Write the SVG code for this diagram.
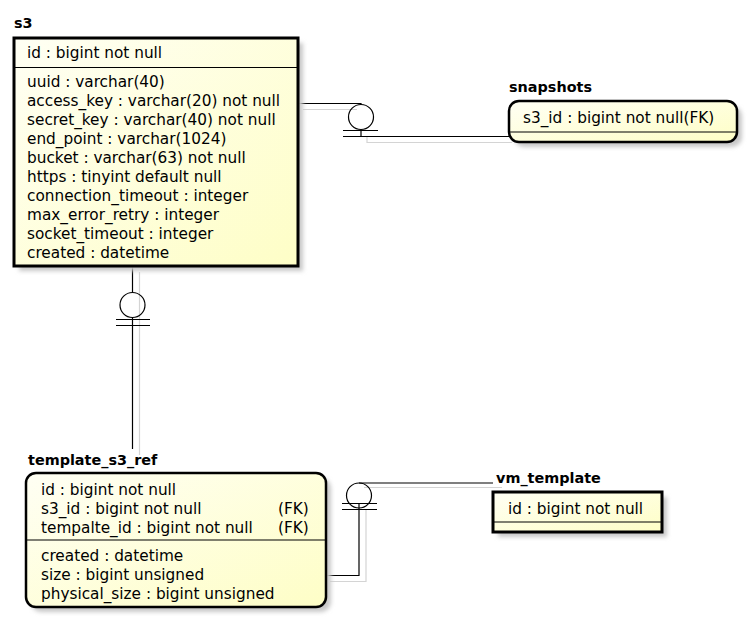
<svg xmlns="http://www.w3.org/2000/svg" width="750" height="621" viewBox="0 0 750 621">
<defs>
<linearGradient id="fill" x1="0" y1="0" x2="1" y2="1">
<stop offset="0" stop-color="#FFFFF4"/>
<stop offset="1" stop-color="#FEFEC6"/>
</linearGradient>
<filter id="sh" x="-10%" y="-10%" width="130%" height="130%">
<feGaussianBlur stdDeviation="2"/>
</filter>
<style>
.box{fill:url(#fill);stroke:#000;}
.shadow{fill:#c8c8c8;filter:url(#sh);}
.t{font-family:"DejaVu Sans","Liberation Sans",sans-serif;font-size:15.3px;fill:#000;}
.title{font-family:"DejaVu Sans","Liberation Sans",sans-serif;font-size:14.4px;font-weight:bold;fill:#000;}
.ln{stroke:#000;stroke-width:1.2;fill:none;}
.sl{stroke:#d4d4d4;stroke-width:1.2;fill:none;}
.sep{stroke:#000;stroke-width:1.2;}
</style>
</defs>
<rect width="750" height="621" fill="#fff"/>

<g id="connectors">
<path class="sl" d="M303,109.5 H357 M367,137 V142.5 H512"/>
<path class="sl" d="M139.5,272 V455"/>
<path class="sl" d="M330,581.5 H366 V510 M364,487.5 H502"/>
<path class="ln" d="M298,103.5 H361 V104.5"/>
<circle class="ln" cx="361" cy="117" r="12.5" fill="#fff"/>
<path class="ln" d="M343,130.5 H378 M343,136.5 H378 M361,129.5 V136.5 H510"/>
<path class="ln" d="M132.5,266 V292.5"/>
<circle class="ln" cx="132.5" cy="305" r="12.5" fill="#fff"/>
<path class="ln" d="M116,319.5 H150 M116,325.5 H150 M132.5,317.5 V449"/>
<path class="ln" d="M326,575.5 H359 V504"/>
<path class="ln" d="M342,503.5 H377 M342,509.5 H377"/>
<circle class="ln" cx="359" cy="495.5" r="12.5" fill="#fff"/>
<path class="ln" d="M359,483 H493"/>
</g>

<g id="s3">
<rect class="shadow" x="19" y="43" width="284" height="228"/>
<text class="title" x="14" y="28">s3</text>
<rect class="box" x="14" y="38" width="284" height="228" stroke-width="3"/>
<line class="sep" x1="14" y1="67.5" x2="298" y2="67.5"/>
<text class="t" x="27" y="58">id : bigint not null</text>
<text class="t" x="27" y="87">uuid : varchar(40)</text>
<text class="t" x="27" y="106">access_key : varchar(20) not null</text>
<text class="t" x="27" y="125">secret_key : varchar(40) not null</text>
<text class="t" x="27" y="144">end_point : varchar(1024)</text>
<text class="t" x="27" y="163">bucket : varchar(63) not null</text>
<text class="t" x="27" y="182">https : tinyint default null</text>
<text class="t" x="27" y="201">connection_timeout : integer</text>
<text class="t" x="27" y="220">max_error_retry : integer</text>
<text class="t" x="27" y="239">socket_timeout : integer</text>
<text class="t" x="27" y="258">created : datetime</text>
</g>

<g id="snapshots">
<rect class="shadow" x="514" y="106" width="228" height="41" rx="10"/>
<text class="title" x="509" y="92">snapshots</text>
<rect class="box" x="509" y="101" width="228" height="41" rx="10" stroke-width="2.5"/>
<line class="sep" x1="509" y1="132" x2="737" y2="132"/>
<text class="t" x="523" y="123">s3_id : bigint not null(FK)</text>
</g>

<g id="template_s3_ref">
<rect class="shadow" x="31" y="478" width="300" height="134" rx="10"/>
<text class="title" x="28" y="465">template_s3_ref</text>
<rect class="box" x="26" y="473" width="300" height="134" rx="10" stroke-width="2.5"/>
<line class="sep" x1="26" y1="540" x2="326" y2="540"/>
<text class="t" x="41" y="495">id : bigint not null</text>
<text class="t" x="41" y="514">s3_id : bigint not null</text>
<text class="t" x="278" y="514">(FK)</text>
<text class="t" x="41" y="533">tempalte_id : bigint not null</text>
<text class="t" x="278" y="533">(FK)</text>
<text class="t" x="41" y="561">created : datetime</text>
<text class="t" x="41" y="580">size : bigint unsigned</text>
<text class="t" x="41" y="599">physical_size : bigint unsigned</text>
</g>

<g id="vm_template">
<rect class="shadow" x="498" y="497" width="169" height="40"/>
<text class="title" x="496" y="483">vm_template</text>
<rect class="box" x="493" y="492" width="169" height="40" stroke-width="3"/>
<line class="sep" x1="493" y1="522" x2="662" y2="522"/>
<text class="t" x="508" y="514">id : bigint not null</text>
</g>
</svg>
